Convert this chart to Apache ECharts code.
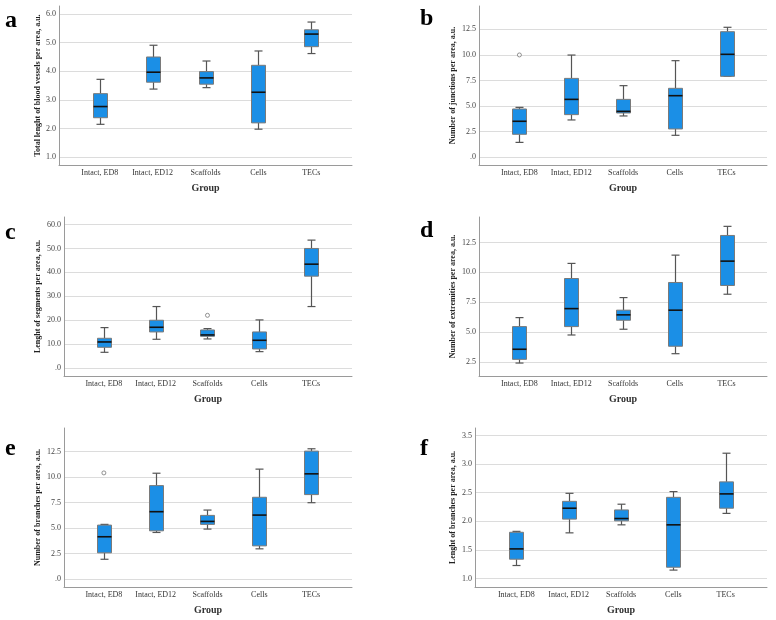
<!DOCTYPE html>
<html>
<head>
<meta charset="utf-8">
<script src="https://cdn.jsdelivr.net/npm/echarts@6/dist/echarts.min.js"></script>
<style>
html,body{margin:0;padding:0;background:#fff;}
#c{width:776px;height:620px;}
</style>
</head>
<body>
<div id="c"></div>
<script>
// Categories shared by all panels
var categories = ['Intact, ED8', 'Intact, ED12', 'Scaffolds', 'Cells', 'TECs'];

// Each box: [min, Q1, median, Q3, max]
var boxA = [[2.15,2.38,2.77,3.22,3.72],[3.38,3.62,3.97,4.50,4.91],[3.43,3.55,3.77,3.99,4.36],[1.98,2.20,3.27,4.21,4.71],[4.62,4.86,5.30,5.45,5.72]];
var outA = [];
var boxB = [[1.46,2.25,3.52,4.72,4.88],[3.65,4.17,5.66,7.71,9.99],[4.04,4.33,4.49,5.66,7.00],[2.15,2.77,6.02,6.74,9.44],[7.91,7.91,10.06,12.27,12.70]];
var outB = [[0, 10.0]];
var boxC = [[6.68,8.77,11.0,12.53,16.98],[12.11,15.17,17.12,20.05,25.76],[12.25,13.36,13.92,16.0,16.57],[6.96,8.07,11.69,15.17,20.19],[25.76,38.42,43.43,49.98,53.46]];
var outC = [[2, 22.1]];
var boxD = [[2.44,2.75,3.59,5.48,6.23],[4.78,5.48,6.98,9.49,10.75],[5.26,6.01,6.46,6.85,7.90],[3.22,3.84,6.85,9.16,11.44],[8.18,8.91,10.94,13.08,13.84]];
var outD = [];
var boxE = [[1.96,2.59,4.16,5.30,5.37],[4.58,4.74,6.61,9.16,10.37],[4.91,5.37,5.66,6.25,6.77],[2.98,3.27,6.28,8.02,10.77],[7.49,8.28,10.31,12.53,12.76]];
var outE = [[0, 10.4]];
var boxF = [[1.23,1.34,1.52,1.81,1.826],[1.80,2.04,2.23,2.35,2.49],[1.94,2.01,2.05,2.20,2.30],[1.15,1.20,1.94,2.42,2.52],[2.14,2.23,2.48,2.69,3.19]];
var outF = [];

// Tick labels for each panel's value axis
var ticksA = [1, 2, 3, 4, 5, 6];
var ticksB = [0, 2.5, 5, 7.5, 10, 12.5];
var ticksC = [0, 10, 20, 30, 40, 50, 60];
var ticksD = [2.5, 5, 7.5, 10, 12.5];
var ticksE = [0, 2.5, 5, 7.5, 10, 12.5];
var ticksF = [1, 1.5, 2, 2.5, 3, 3.5];

var yTitles = [
  'Total lenght of blood vessels per area, a.u.',
  'Number of junctions per area, a.u.',
  'Lenght of segments per area, a.u.',
  'Number of extremities per area, a.u.',
  'Number of branches per area, a.u.',
  'Lenght of branches per area, a.u.'
];
var letters = ['a', 'b', 'c', 'd', 'e', 'f'];

var panels = [
  {box: boxA, out: outA, ticks: ticksA, ymin: 0.73, ymax: 6.28, grid: {left: 59, top: 6, width: 293, height: 159}, xr: [-0.77, 4.77], nameGap: 17.5, letter: [12, 23]},
  {box: boxB, out: outB, ticks: ticksB, ymin: -0.75, ymax: 14.78, grid: {left: 479, top: 6, width: 288, height: 159}, xr: [-0.78, 4.78], nameGap: 22, letter: [427, 21]},
  {box: boxC, out: outC, ticks: ticksC, ymin: -3.2, ymax: 63.1, grid: {left: 64, top: 217, width: 288, height: 159}, xr: [-0.77, 4.79], nameGap: 22, letter: [12, 235]},
  {box: boxD, out: outD, ticks: ticksD, ymin: 1.36, ymax: 14.62, grid: {left: 479, top: 217, width: 288, height: 159}, xr: [-0.78, 4.78], nameGap: 22, letter: [427, 233]},
  {box: boxE, out: outE, ticks: ticksE, ymin: -0.75, ymax: 14.79, grid: {left: 64, top: 428, width: 288, height: 159}, xr: [-0.77, 4.79], nameGap: 22, letter: [12, 451]},
  {box: boxF, out: outF, ticks: ticksF, ymin: 0.855, ymax: 3.63, grid: {left: 475, top: 428, width: 292, height: 159}, xr: [-0.79, 4.79], nameGap: 18.5, letter: [427, 451]}
];

var FONT = '"Liberation Serif", "DejaVu Serif", serif';

function fmtTick(v) {
  var s = (Math.round(v * 10) / 10).toFixed(1);
  if (s.indexOf('0.') === 0) s = s.substring(1);
  return s;
}

function renderBox(params, api) {
  var x = api.value(0);
  var pMin = api.coord([x, api.value(1)]);
  var pQ1 = api.coord([x, api.value(2)]);
  var pMed = api.coord([x, api.value(3)]);
  var pQ3 = api.coord([x, api.value(4)]);
  var pMax = api.coord([x, api.value(5)]);
  var cx = Math.round(pMin[0]) + 0.5;
  var bw = 14, cw = 7;
  var wStyle = {stroke: '#555', lineWidth: 1.2};
  return {
    type: 'group',
    children: [
      {type: 'line', shape: {x1: cx, y1: pMax[1], x2: cx, y2: pQ3[1]}, style: wStyle},
      {type: 'line', shape: {x1: cx, y1: pMin[1], x2: cx, y2: pQ1[1]}, style: wStyle},
      {type: 'line', shape: {x1: cx - cw / 2 - 0.5, y1: pMax[1], x2: cx + cw / 2 + 0.5, y2: pMax[1]}, style: wStyle},
      {type: 'line', shape: {x1: cx - cw / 2 - 0.5, y1: pMin[1], x2: cx + cw / 2 + 0.5, y2: pMin[1]}, style: wStyle},
      {type: 'rect', shape: {x: cx - bw / 2, y: pQ3[1], width: bw, height: pQ1[1] - pQ3[1]},
        style: {fill: '#1b8fe6', stroke: '#7a7a7a', lineWidth: 1}},
      {type: 'line', shape: {x1: cx - bw / 2, y1: pMed[1], x2: cx + bw / 2, y2: pMed[1]},
        style: {stroke: '#111', lineWidth: 1.6}}
    ]
  };
}

var option = {
  backgroundColor: '#fff',
  animation: false,
  grid: [], xAxis: [], yAxis: [], series: [], graphic: []
};

panels.forEach(function (p, i) {
  option.grid.push(p.grid);
  option.xAxis.push({
    type: 'value', gridIndex: i, min: p.xr[0], max: p.xr[1],
    name: 'Group', nameLocation: 'middle', nameGap: 18,
    nameTextStyle: {fontFamily: FONT, fontWeight: 'bold', fontSize: 10, color: '#333'},
    axisLine: {show: true, onZero: false, lineStyle: {color: '#9a9a9a', width: 1}},
    axisTick: {show: false, customValues: [0, 1, 2, 3, 4]},
    splitLine: {show: false},
    axisLabel: {
      customValues: [0, 1, 2, 3, 4], margin: 4,
      fontFamily: FONT, fontSize: 8, color: '#333',
      formatter: function (v) { return categories[Math.round(v)] || ''; }
    }
  });
  option.yAxis.push({
    type: 'value', gridIndex: i, min: p.ymin, max: p.ymax,
    name: yTitles[i], nameLocation: 'middle', nameGap: p.nameGap,
    nameTextStyle: {fontFamily: FONT, fontWeight: 'bold', fontSize: 8, color: '#222'},
    axisLine: {show: true, onZero: false, lineStyle: {color: '#9a9a9a', width: 1}},
    axisTick: {show: false, customValues: p.ticks},
    splitLine: {show: true, lineStyle: {color: '#dcdcdc', width: 1.2}},
    axisLabel: {
      customValues: p.ticks, margin: 3,
      fontFamily: FONT, fontSize: 8, color: '#444',
      formatter: fmtTick
    }
  });
  option.series.push({
    type: 'custom', xAxisIndex: i, yAxisIndex: i,
    renderItem: renderBox,
    encode: {x: 0, y: [1, 2, 3, 4, 5]},
    data: p.box.map(function (b, k) { return [k].concat(b); })
  });
  if (p.out.length) {
    option.series.push({
      type: 'scatter', xAxisIndex: i, yAxisIndex: i,
      symbol: 'circle', symbolSize: 4,
      itemStyle: {color: '#fff', borderColor: '#777', borderWidth: 1},
      data: p.out
    });
  }
  option.graphic.push({
    type: 'text', left: p.letter[0] - 7, top: p.letter[1] - 14,
    style: {text: letters[i], font: 'bold 24px ' + FONT, fill: '#000'}
  });
});

var chart = echarts.init(document.getElementById('c'), null, {renderer: 'canvas'});
chart.setOption(option);
</script>
</body>
</html>
